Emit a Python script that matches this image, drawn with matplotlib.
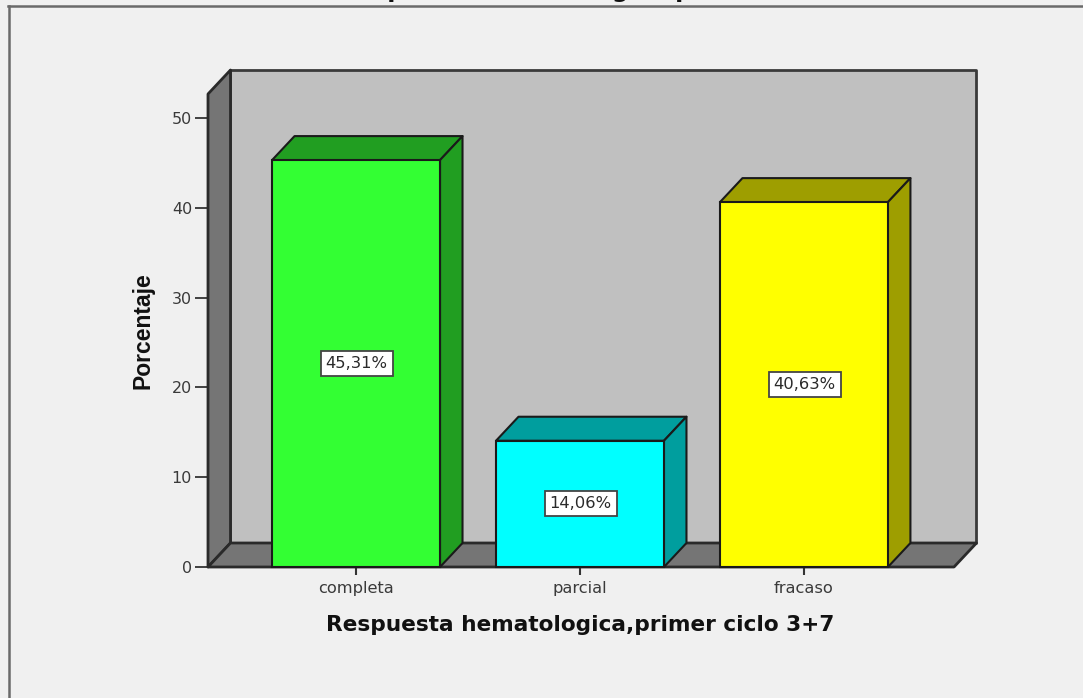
import matplotlib
matplotlib.use('Agg')
import matplotlib.pyplot as plt
from matplotlib.patches import Polygon

categories = ['completa', 'parcial', 'fracaso']
percentages = [45.31, 14.06, 40.63]
value_labels = ['45,31%', '14,06%', '40,63%']
y_ticks = [0, 10, 20, 30, 40, 50]
front_colors = ['#33ff33', '#00ffff', '#ffff00']
side_colors = ['#219e21', '#009e9e', '#9e9e00']

W, H = 1083, 698
plt.rcParams['font.family'] = ['DejaVu Sans']

fig = plt.figure(figsize=(W / 100, H / 100), dpi=100, facecolor='#f0f0f0')
ax = fig.add_axes([208 / W, (H - 567) / H, 746 / W, 473 / H])
ax.set_xlim(-0.661, 2.670)
ax.set_ylim(0, 52.67)
ax.patch.set_visible(False)
for s in ax.spines.values():
    s.set_visible(False)

# depth of the fake 3d box, in data units
dx = 22.5 / 224
dy = 24 / 8.98
x0, x1 = ax.get_xlim()
y1 = ax.get_ylim()[1]
edge = '#1a1a1a'


def poly(pts, color, z, lw=1.5, ec=edge):
    ax.add_patch(Polygon(pts, closed=True, fc=color, ec=ec, lw=lw, zorder=z,
                         clip_on=False, joinstyle='round'))


# back wall, side wall, floor
poly([(x0 + dx, dy), (x1 + dx, dy), (x1 + dx, y1 + dy), (x0 + dx, y1 + dy)], '#c0c0c0', 1, lw=2.0, ec='#3a3a3a')
poly([(x0, 0), (x0 + dx, dy), (x0 + dx, y1 + dy), (x0, y1)], '#757575', 2, lw=2.0, ec='#2a2a2a')
poly([(x0, 0), (x1, 0), (x1 + dx, dy), (x0 + dx, dy)], '#757575', 2, lw=2.0, ec='#2a2a2a')

bar_w = 0.75
for i, v in enumerate(percentages):
    l, r = i - bar_w / 2, i + bar_w / 2
    poly([(l, v), (r, v), (r + dx, v + dy), (l + dx, v + dy)], side_colors[i], 3)
    poly([(r, 0), (r + dx, dy), (r + dx, v + dy), (r, v)], side_colors[i], 3)
    ax.bar(i, v, width=bar_w, color=front_colors[i], edgecolor=edge, linewidth=1.5, zorder=4, clip_on=False)
    ax.text(i + 0.003, v / 2, value_labels[i], ha='center', va='center', fontsize=11.8, color='#2a2a2a', zorder=5,
            bbox=dict(boxstyle='square,pad=0.3', fc='white', ec='#444444', lw=1.3))

ax.set_xticks(range(len(categories)), categories)
ax.set_yticks(y_ticks)
ax.tick_params(axis='x', length=6, width=1.5, color='#333333', labelsize=11.7, labelcolor='#3a3a3a', pad=4)
ax.tick_params(axis='y', length=9.5, width=1.3, color='#333333', labelsize=11.5, labelcolor='#3a3a3a', pad=2)

fig.text(580 / W, 1 - 625 / H, 'Respuesta hematologica,primer ciclo 3+7', ha='center', va='center',
         fontsize=15.6, fontweight='bold', color='#111111')
fig.text(143 / W, 1 - 331 / H, 'Porcentaje', ha='center', va='center', rotation=90,
         fontsize=16.5, fontweight='bold', color='#111111', family=['Liberation Sans', 'DejaVu Sans'])
# title runs off the top of the screenshot, only descenders show
fig.text(339 / W, 1 + 3 / H, 'Respuesta hematologica primer ciclo 3+7', ha='left', va='baseline',
         fontsize=17, fontweight='bold', color='#111111')

# chart frame, cropped on the right and bottom
frame_color = '#6a6a6a'
fig.add_artist(plt.Line2D([8.5 / W, 8.5 / W], [0, 1 - 5.5 / H], color=frame_color, lw=1.8))
fig.add_artist(plt.Line2D([8 / W, 1], [1 - 5.5 / H, 1 - 5.5 / H], color=frame_color, lw=1.8))

fig.savefig('out.png', dpi=100, facecolor=fig.get_facecolor())
